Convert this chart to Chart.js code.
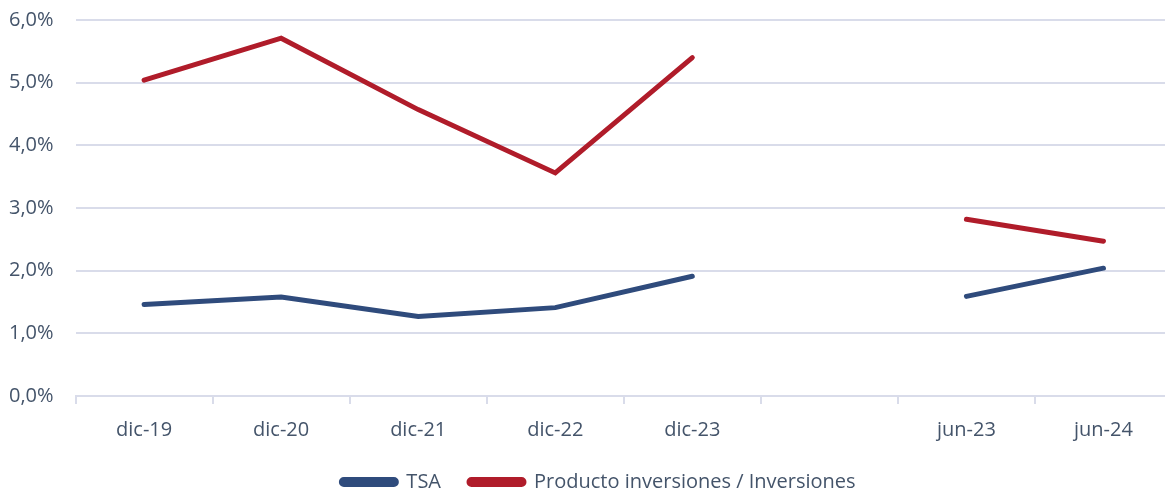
<!DOCTYPE html>
<html>
<head>
<meta charset="utf-8">
<script src="https://cdn.jsdelivr.net/npm/chart.js@4/dist/chart.umd.min.js"></script>
<style>
  html, body { margin: 0; padding: 0; background: #fff; overflow: hidden; }
  #wrap { width: 1172px; height: 493px; }
</style>
</head>
<body>
<div id="wrap"><canvas id="rateChart"></canvas></div>
<script>
const categories = ["dic-19", "dic-20", "dic-21", "dic-22", "dic-23", "", "jun-23", "jun-24"];
const tsa = [1.46, 1.58, 1.27, 1.41, 1.91, null, 1.59, 2.04];
const producto = [5.04, 5.71, 4.57, 3.56, 5.40, null, 2.82, 2.47];

const textColor = "#44546a";
const gridColor = "#d9dcea";

// nudge the legend right and up a bit, like the original
const legendShift = {
    id: "legendShift",
    afterLayout(chart) {
        const lg = chart.legend;
        lg.left += 12;
        lg.right += 12;
        lg.top -= 12;
        lg.bottom -= 12;
    }
};

new Chart(document.getElementById("rateChart"), {
    type: "line",
    data: {
        labels: categories,
        datasets: [{
            label: "TSA",
            data: tsa,
            borderColor: "#2f4b7c",
            backgroundColor: "#2f4b7c",
            borderWidth: 5,
            borderCapStyle: "round",
            pointRadius: 0,
            spanGaps: false
        }, {
            label: "Producto inversiones / Inversiones",
            data: producto,
            borderColor: "#b01c2a",
            backgroundColor: "#b01c2a",
            borderWidth: 5,
            borderCapStyle: "round",
            pointRadius: 0,
            spanGaps: false
        }]
    },
    options: {
        responsive: true,
        maintainAspectRatio: false,
        animation: false,
        layout: {
            padding: { top: 0, left: 1, right: 0, bottom: -21 }
        },
        scales: {
            x: {
                offset: true,
                grid: {
                    offset: true,
                    drawOnChartArea: false,
                    drawTicks: true,
                    tickLength: 8,
                    color: gridColor,
                    lineWidth: 2
                },
                border: { display: true, color: gridColor, width: 2 },
                ticks: {
                    color: textColor,
                    padding: 14,
                    font: { family: "Open Sans", size: 20 }
                }
            },
            y: {
                min: 0,
                max: 6,
                grid: {
                    drawTicks: true,
                    tickLength: 14,
                    tickColor: "rgba(0,0,0,0)",
                    color: gridColor,
                    lineWidth: 2
                },
                border: { display: false },
                ticks: {
                    stepSize: 1,
                    padding: 8,
                    color: textColor,
                    font: { family: "Open Sans", size: 20 },
                    callback: v => v.toFixed(1).replace(".", ",") + "%"
                }
            }
        },
        plugins: {
            legend: {
                position: "bottom",
                labels: {
                    boxWidth: 55,
                    boxHeight: 5,
                    useBorderRadius: true,
                    borderRadius: 2.5,
                    padding: 28,
                    color: textColor,
                    font: { family: "Open Sans", size: 20 }
                }
            },
            tooltip: { enabled: false }
        }
    },
    plugins: [legendShift]
});
</script>
</body>
</html>
